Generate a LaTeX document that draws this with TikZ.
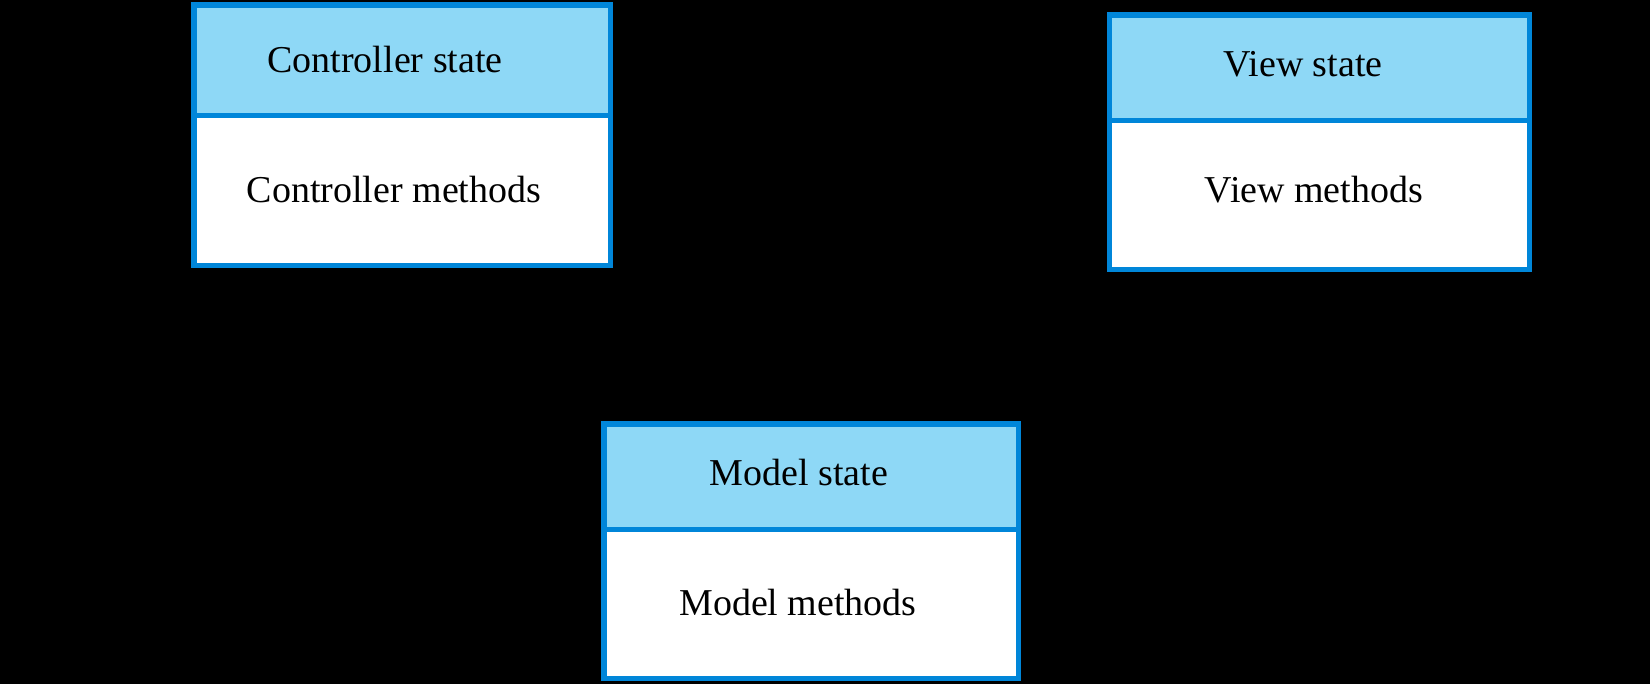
\documentclass[tikz,border=0pt]{standalone}
\usepackage{fontspec}
\setmainfont{Liberation Serif}
\usetikzlibrary{positioning}

\definecolor{boxblue}{HTML}{0086D9}
\definecolor{headblue}{HTML}{8ED8F6}

\tikzset{
  part/.style={draw=boxblue, line width=1.45pt, outer sep=0pt, inner sep=0pt, anchor=north west},
  head/.style={part, fill=headblue},
  body/.style={part, fill=white},
  txt/.style={anchor=base, inner sep=0pt, font=\fontsize{10.8}{12.8}\selectfont},
  msg/.style={inner sep=0pt, align=center, text=black, font=\fontsize{10.8}{12.8}\selectfont},
}

\begin{document}
\begin{tikzpicture}[x=0.01cm, y=-0.01cm]
  % background
  \fill[black] (0,0) rectangle (1650,684);
  \useasboundingbox (0,0) rectangle (1650,684);

  % controller
  \node[head, minimum width=4.165cm, minimum height=1.105cm] (ctrlstate) at (194,5) {};
  \node[body, minimum width=4.165cm, minimum height=1.5cm] (ctrlmeth) at (ctrlstate.south west) {};
  \node[txt] (ctrlstatetxt) at (385,72) {Controller state};
  \node[txt] (ctrlmethtxt) at (394,202) {Controller methods};

  % view
  \node[head, minimum width=4.195cm, minimum height=1.05cm] (viewstate) at (1109.5,15) {};
  \node[body, minimum width=4.195cm, minimum height=1.49cm] (viewmeth) at (viewstate.south west) {};
  \node[txt] (viewstatetxt) at (1303,76) {View state};
  \node[txt] (viewmethtxt) at (1314,202) {View methods};

  % model
  \node[head, minimum width=4.14cm, minimum height=1.05cm] (modelstate) at (604,424) {};
  \node[body, minimum width=4.14cm, minimum height=1.49cm] (modelmeth) at (modelstate.south west) {};
  \node[txt] (modelstatetxt) at (799,485) {Model state};
  \node[txt] (modelmethtxt) at (798,615) {Model methods};

  % message labels
  \node[msg] (userin) at (52,68) {User\\inputs};
  \node[msg] (viewmod) at (858,75) {view modification\\messages};
  \node[msg] (edits) at (237,437) {Model edits};
  \node[msg] (queries) at (1486,396) {Model queries\\and updates};
\end{tikzpicture}
\end{document}
